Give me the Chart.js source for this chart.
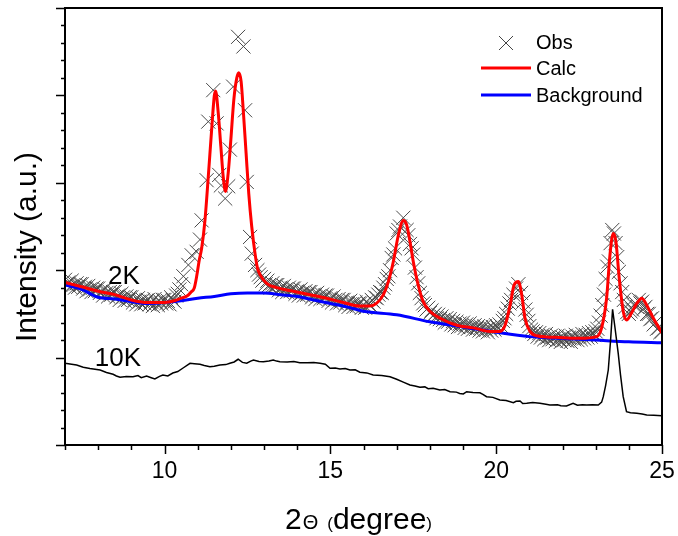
<!DOCTYPE html>
<html>
<head>
<meta charset="utf-8">
<script src="https://cdn.jsdelivr.net/npm/chart.js@4.4.1/dist/chart.umd.min.js"></script>
<style>
  html, body { margin: 0; padding: 0; background: #fff; }
  #wrap { width: 678px; height: 536px; }
</style>
</head>
<body>
<div id="wrap"><canvas id="c" width="678" height="536"></canvas></div>
<script>
// ---- 2K pattern: observed points (2-theta, intensity a.u.) ----
const obsTheta = [
  7.00, 7.05, 7.10, 7.15, 7.20, 7.25, 7.30, 7.35, 7.40, 7.45,
  7.50, 7.55, 7.60, 7.65, 7.70, 7.75, 7.80, 7.85, 7.90, 7.95,
  8.00, 8.05, 8.10, 8.15, 8.20, 8.25, 8.30, 8.35, 8.40, 8.45,
  8.50, 8.55, 8.60, 8.65, 8.70, 8.75, 8.80, 8.85, 8.90, 8.95,
  9.00, 9.05, 9.10, 9.15, 9.20, 9.25, 9.30, 9.35, 9.40, 9.45,
  9.50, 9.55, 9.60, 9.65, 9.70, 9.75, 9.80, 9.85, 9.90, 9.95,
  10.00, 10.05, 10.10, 10.15, 10.20, 10.25, 10.30, 10.35, 10.40, 10.45,
  10.50, 10.57, 10.72, 10.82, 10.97, 11.07, 11.12, 11.27, 11.32, 11.47,
  11.57, 11.65, 11.70, 11.83, 11.92, 11.97, 12.07, 12.22, 12.38, 12.43,
  12.48, 12.58, 12.63, 12.73, 12.80, 12.85,
  12.90, 12.95, 13.00, 13.05, 13.10, 13.15, 13.20, 13.25, 13.30, 13.35,
  13.40, 13.45, 13.50, 13.55, 13.60, 13.65, 13.70, 13.75, 13.80, 13.85,
  13.90, 13.95, 14.00, 14.05, 14.10, 14.15, 14.20, 14.25, 14.30, 14.35,
  14.40, 14.45, 14.50, 14.55, 14.60, 14.65, 14.70, 14.75, 14.80, 14.85,
  14.90, 14.95, 15.00, 15.05, 15.10, 15.15, 15.20, 15.25, 15.30, 15.35,
  15.40, 15.45, 15.50, 15.55, 15.60, 15.65, 15.70, 15.75, 15.80, 15.85,
  15.90, 15.95, 16.00, 16.05, 16.10, 16.15, 16.20, 16.25, 16.30, 16.35,
  16.40, 16.45, 16.50, 16.55, 16.60, 16.65, 16.70, 16.75, 16.80, 16.85,
  16.90, 16.95, 17.00, 17.05, 17.10, 17.20, 17.30, 17.35, 17.40, 17.45,
  17.50, 17.55, 17.60, 17.65, 17.70, 17.75, 17.80,
  17.85, 17.90, 17.95, 18.00, 18.05, 18.10, 18.15, 18.20, 18.25, 18.30,
  18.35, 18.40, 18.45, 18.50, 18.55, 18.60, 18.65, 18.70, 18.75, 18.80,
  18.85, 18.90, 18.95, 19.00, 19.05, 19.10, 19.15, 19.20, 19.25, 19.30,
  19.35, 19.40, 19.45, 19.50, 19.55, 19.60, 19.65, 19.70, 19.75, 19.80,
  19.85, 19.90, 19.95, 20.00, 20.05, 20.10,
  20.15, 20.20, 20.25, 20.30, 20.35, 20.40, 20.45, 20.52, 20.60, 20.67,
  20.75, 20.82, 20.88, 20.92, 20.97,
  21.00, 21.05, 21.10, 21.15, 21.20, 21.25, 21.30, 21.35, 21.40, 21.45,
  21.50, 21.55, 21.60, 21.65, 21.70, 21.75, 21.80, 21.85, 21.90, 21.95,
  22.00, 22.05, 22.10, 22.15, 22.20, 22.25, 22.30, 22.35, 22.40, 22.45,
  22.50, 22.55, 22.60, 22.65, 22.70, 22.75, 22.80, 22.85, 22.90, 22.95, 23.00,
  23.05, 23.10, 23.15, 23.20, 23.25, 23.30, 23.35, 23.40, 23.45, 23.50,
  23.55, 23.60, 23.65, 23.70, 23.75, 23.80, 23.85, 23.90, 23.95,
  24.00, 24.05, 24.10, 24.15, 24.20, 24.25, 24.30, 24.35, 24.40, 24.45,
  24.50, 24.55, 24.60, 24.65, 24.70, 24.75, 24.80, 24.85, 24.90, 24.95, 25.00
];
const obsIntensity = [
  1.89, 1.84, 1.86, 1.81, 1.88, 1.83, 1.80, 1.85, 1.81, 1.84,
  1.84, 1.79, 1.81, 1.76, 1.82, 1.78, 1.75, 1.80, 1.76, 1.79,
  1.79, 1.74, 1.76, 1.71, 1.78, 1.74, 1.70, 1.75, 1.72, 1.75,
  1.75, 1.69, 1.71, 1.66, 1.73, 1.69, 1.65, 1.70, 1.66, 1.69,
  1.69, 1.63, 1.66, 1.61, 1.68, 1.64, 1.61, 1.66, 1.62, 1.65,
  1.66, 1.61, 1.64, 1.59, 1.67, 1.63, 1.60, 1.65, 1.62, 1.66,
  1.66, 1.62, 1.65, 1.61, 1.69, 1.66, 1.64, 1.71, 1.73, 1.78,
  1.84, 1.93, 2.06, 2.17, 2.21, 2.35, 2.57, 3.03, 3.70, 4.06,
  3.68, 3.09, 2.97, 2.82, 2.96, 3.38, 4.10, 4.67, 4.56, 3.83,
  3.01, 2.38, 2.19, 2.06, 2.00, 1.95,
  1.92, 1.88, 1.90, 1.84, 1.88, 1.83, 1.80, 1.85, 1.81, 1.83,
  1.83, 1.77, 1.80, 1.75, 1.82, 1.78, 1.75, 1.80, 1.76, 1.79,
  1.79, 1.73, 1.76, 1.71, 1.78, 1.74, 1.71, 1.76, 1.72, 1.75,
  1.75, 1.69, 1.72, 1.67, 1.74, 1.70, 1.67, 1.72, 1.68, 1.71,
  1.71, 1.65, 1.68, 1.63, 1.70, 1.66, 1.62, 1.67, 1.63, 1.66,
  1.66, 1.60, 1.63, 1.58, 1.65, 1.61, 1.58, 1.63, 1.59, 1.62,
  1.62, 1.57, 1.61, 1.57, 1.64, 1.61, 1.60, 1.66, 1.64, 1.69,
  1.68, 1.72, 1.75, 1.74, 1.80, 1.84, 1.90, 1.93, 2.00, 2.14,
  2.18, 2.25, 2.42, 2.46, 2.50, 2.60, 2.46, 2.40, 2.30, 2.25,
  2.18, 2.03, 1.92, 1.85, 1.74, 1.68, 1.62,
  1.60, 1.55, 1.57, 1.51, 1.54, 1.48, 1.50, 1.45, 1.49, 1.44,
  1.47, 1.43, 1.40, 1.45, 1.41, 1.44, 1.38, 1.42, 1.37, 1.41,
  1.35, 1.39, 1.36, 1.40, 1.34, 1.38, 1.33, 1.39, 1.35, 1.32,
  1.37, 1.33, 1.36, 1.31, 1.35, 1.30, 1.36, 1.32, 1.29, 1.34,
  1.31, 1.35, 1.32, 1.37, 1.34, 1.38,
  1.36, 1.42, 1.45, 1.50, 1.56, 1.62, 1.66, 1.72, 1.79, 1.84,
  1.74, 1.64, 1.55, 1.49, 1.42,
  1.36, 1.32, 1.30, 1.27, 1.29, 1.24, 1.28, 1.23, 1.26, 1.21,
  1.27, 1.23, 1.20, 1.25, 1.21, 1.24, 1.19, 1.25, 1.21, 1.18,
  1.23, 1.20, 1.25, 1.19, 1.23, 1.18, 1.24, 1.21, 1.26, 1.20,
  1.24, 1.21, 1.27, 1.22, 1.26, 1.23, 1.28, 1.24, 1.29, 1.26, 1.30,
  1.33, 1.40, 1.48, 1.60, 1.72, 1.90, 2.04, 2.10, 2.31, 2.46,
  2.42, 2.31, 2.15, 1.98, 1.85, 1.75, 1.66, 1.58, 1.52,
  1.50, 1.53, 1.55, 1.60, 1.62, 1.58, 1.66, 1.62, 1.64, 1.56,
  1.58, 1.50, 1.50, 1.44, 1.45, 1.38, 1.40, 1.33, 1.34, 1.29, 1.30
];

// ---- 2K pattern: calculated profile ----
const calcTheta = [
  7.0, 7.5, 8.0, 8.5, 9.0, 9.5, 10.0, 10.3, 10.5, 10.7, 10.8, 10.9,
  10.97, 11.05, 11.12, 11.22, 11.32, 11.42, 11.50, 11.54, 11.62, 11.70,
  11.77, 11.84, 11.92, 12.00, 12.09, 12.18, 12.24, 12.31, 12.38, 12.46,
  12.54, 12.63, 12.73, 12.80, 12.88, 13.08, 13.38, 13.88, 14.39, 14.89,
  15.39, 15.89, 16.19, 16.39, 16.60, 16.75, 16.90, 17.05, 17.20, 17.30,
  17.40, 17.50, 17.65, 17.80, 18.00, 18.31, 18.81, 19.31, 19.81, 20.11,
  20.27, 20.42, 20.54, 20.67, 20.77, 20.87, 21.02, 21.22, 21.92, 22.53,
  23.03, 23.18, 23.33, 23.43, 23.53, 23.61, 23.71, 23.83, 23.93, 24.08,
  24.24, 24.39, 24.54, 24.74, 24.94, 25.0
];
const calcIntensity = [
  1.86, 1.81, 1.76, 1.72, 1.66, 1.63, 1.63, 1.65, 1.68, 1.71, 1.75, 1.80,
  1.93, 2.12, 2.25, 2.57, 3.07, 3.60, 3.99, 4.05, 3.80, 3.41,
  3.07, 2.90, 3.11, 3.49, 3.95, 4.20, 4.26, 4.16, 3.80, 3.34,
  2.88, 2.50, 2.19, 2.03, 1.95, 1.85, 1.80, 1.76, 1.72, 1.68,
  1.63, 1.59, 1.59, 1.62, 1.72, 1.87, 2.10, 2.40, 2.57, 2.52,
  2.33, 2.10, 1.83, 1.64, 1.53, 1.45, 1.37, 1.34, 1.30, 1.30,
  1.37, 1.60, 1.83, 1.87, 1.72, 1.45, 1.30, 1.25, 1.23, 1.22,
  1.24, 1.34, 1.68, 2.17, 2.42, 2.33, 1.91, 1.53, 1.43, 1.51,
  1.62, 1.68, 1.60, 1.45, 1.32, 1.28
];

// ---- 2K pattern: refined background ----
const bgTheta = [
  7.0, 7.5, 8.0, 8.5, 9.0, 9.5, 10.0, 10.5, 11.0, 11.5, 12.0, 12.5, 13.0, 13.5,
  14.0, 14.5, 15.0, 15.5, 16.0, 17.0, 18.0, 19.0, 20.0, 21.0, 22.0, 23.0, 24.0, 25.0
];
const bgIntensity = [
  1.83, 1.78, 1.69, 1.67, 1.64, 1.62, 1.63, 1.65, 1.68, 1.70, 1.73, 1.74, 1.74, 1.72,
  1.70, 1.66, 1.62, 1.58, 1.53, 1.49, 1.41, 1.35, 1.29, 1.24, 1.22, 1.20, 1.18, 1.17
];

// ---- 10K pattern ----
const tenKTheta = [
  7.00, 7.20, 7.35, 7.55, 7.75, 8.06, 8.25, 8.45, 8.55, 8.66, 8.85, 9.05, 9.20, 9.30,
  9.46, 9.60, 9.71, 9.85, 9.95, 10.10, 10.25, 10.40, 10.56, 10.77, 10.90, 11.07, 11.20,
  11.37, 11.50, 11.67, 11.85, 11.97, 12.10, 12.22, 12.35, 12.48, 12.60, 12.68, 12.85,
  12.98, 13.15, 13.28, 13.38, 13.48, 13.70, 13.90, 14.08, 14.30, 14.50, 14.69, 14.85,
  14.99, 15.15, 15.29, 15.45, 15.59, 15.75, 15.89, 16.10, 16.29, 16.55, 16.80, 17.00,
  17.20, 17.40, 17.55, 17.70, 17.85, 17.95, 18.10, 18.30, 18.45, 18.61, 18.80, 18.90,
  19.01, 19.11, 19.30, 19.51, 19.60, 19.71, 19.90, 20.11, 20.30, 20.52, 20.60, 20.72,
  20.80, 20.92, 21.10, 21.32, 21.50, 21.62, 21.85, 21.95, 22.12, 22.32, 22.45, 22.60,
  22.73, 22.90, 23.08, 23.18, 23.23, 23.30, 23.38, 23.45, 23.51, 23.58, 23.68, 23.75,
  23.83, 23.93, 24.05, 24.24, 24.40, 24.54, 24.75, 25.00
];
const tenKIntensity = [
  0.935, 0.925, 0.915, 0.890, 0.875, 0.858, 0.830, 0.809, 0.790, 0.775, 0.785, 0.781, 0.795, 0.770,
  0.789, 0.770, 0.755, 0.785, 0.801, 0.790, 0.824, 0.840, 0.881, 0.935, 0.930, 0.923, 0.910,
  0.896, 0.900, 0.915, 0.920, 0.935, 0.950, 0.981, 0.945, 0.935, 0.960, 0.973, 0.955,
  0.953, 0.960, 0.973, 0.960, 0.953, 0.950, 0.955, 0.942, 0.940, 0.945, 0.935, 0.925,
  0.878, 0.880, 0.870, 0.875, 0.858, 0.860, 0.832, 0.825, 0.801, 0.795, 0.781, 0.752,
  0.720, 0.686, 0.675, 0.660, 0.665, 0.645, 0.649, 0.630, 0.635, 0.610, 0.605, 0.590,
  0.584, 0.610, 0.600, 0.598, 0.580, 0.553, 0.545, 0.515, 0.510, 0.484, 0.500, 0.503,
  0.475, 0.477, 0.485, 0.477, 0.465, 0.458, 0.460, 0.450, 0.446, 0.477, 0.455, 0.460,
  0.458, 0.460, 0.458, 0.490, 0.553, 0.680, 0.858, 1.200, 1.553, 1.350, 1.049, 0.800,
  0.553, 0.381, 0.370, 0.363, 0.355, 0.343, 0.340, 0.335
];

// axis ticks
const xTickLabels = [10, 15, 20, 25];
const xMinorStep = 1;
const yMajorStep = 1;
const yMinorStep = 0.2;

const FONT = "'Liberation Sans', Arial, Helvetica, sans-serif";

const pts = (xs, ys) => xs.map((v, i) => ({ x: v, y: ys[i] }));

// Frame, outward ticks, curve labels, legend and axis titles
const decorations = {
  id: 'decorations',
  afterDraw(chart) {
    const { ctx, chartArea: a, scales: { x, y } } = chart;
    ctx.save();
    ctx.strokeStyle = '#000';
    ctx.lineWidth = 1.5;
    ctx.lineCap = 'butt';

    // x ticks (outward, below)
    ctx.beginPath();
    for (let v = x.min; v <= x.max + 1e-9; v += xMinorStep) {
      const px = Math.round(x.getPixelForValue(v)) + 0.5;
      const major = xTickLabels.includes(Math.round(v)) && Math.abs(v - Math.round(v)) < 1e-6;
      ctx.moveTo(px, a.bottom);
      ctx.lineTo(px, a.bottom + (major ? 9 : 5));
    }
    // y ticks (outward, left)
    for (let v = y.min; v <= y.max + 1e-9; v += yMinorStep) {
      const py = Math.round(y.getPixelForValue(v)) + 0.5;
      const major = Math.abs(v / yMajorStep - Math.round(v / yMajorStep)) < 1e-6;
      ctx.moveTo(a.left, py);
      ctx.lineTo(a.left - (major ? 9 : 4), py);
    }
    ctx.stroke();

    // frame
    ctx.lineWidth = 2;
    ctx.strokeRect(a.left, a.top, a.right - a.left, a.bottom - a.top);

    // curve labels
    ctx.fillStyle = '#000';
    ctx.textBaseline = 'alphabetic';
    ctx.textAlign = 'left';
    ctx.font = `26px ${FONT}`;
    ctx.fillText('2K', x.getPixelForValue(8.3), y.getPixelForValue(1.84));
    ctx.fillText('10K', x.getPixelForValue(7.9), y.getPixelForValue(0.9));

    // legend
    ctx.font = `20px ${FONT}`;
    ctx.textBaseline = 'middle';
    ctx.strokeStyle = '#444';
    ctx.lineWidth = 1;
    ctx.beginPath();
    ctx.moveTo(499, 36); ctx.lineTo(513, 50);
    ctx.moveTo(513, 36); ctx.lineTo(499, 50);
    ctx.stroke();
    ctx.fillText('Obs', 536, 43);
    ctx.lineWidth = 3;
    ctx.strokeStyle = '#ff0000';
    ctx.beginPath(); ctx.moveTo(481, 68); ctx.lineTo(531, 68); ctx.stroke();
    ctx.fillText('Calc', 536, 69);
    ctx.strokeStyle = '#0000ff';
    ctx.beginPath(); ctx.moveTo(481, 95); ctx.lineTo(531, 95); ctx.stroke();
    ctx.fillText('Background', 536, 96);

    // x title: 2Θ (degree)
    ctx.textBaseline = 'alphabetic';
    const base = 529;
    let cx = 285;
    ctx.font = `30px ${FONT}`;
    ctx.fillText('2', cx, base);
    cx += ctx.measureText('2').width + 1;
    ctx.font = `20px ${FONT}`;
    ctx.fillText('\u0398', cx, base);
    cx += ctx.measureText('\u0398').width + 9;
    ctx.font = `17px ${FONT}`;
    ctx.fillText('(', cx, base);
    cx += ctx.measureText('(').width;
    ctx.font = `30px ${FONT}`;
    ctx.fillText('degree', cx, base);
    cx += ctx.measureText('degree').width;
    ctx.font = `17px ${FONT}`;
    ctx.fillText(')', cx, base);

    // y title
    ctx.translate(36, 247);
    ctx.rotate(-Math.PI / 2);
    ctx.textAlign = 'center';
    ctx.font = `30px ${FONT}`;
    ctx.fillText('Intensity (a.u.)', 0, 0);
    ctx.restore();
  }
};

new Chart(document.getElementById('c'), {
  type: 'line',
  data: {
    datasets: [
      {
        label: '10K',
        data: pts(tenKTheta, tenKIntensity),
        borderColor: '#000000',
        borderWidth: 1.5,
        pointRadius: 0,
        tension: 0,
        order: 1
      },
      {
        label: 'Calc',
        data: pts(calcTheta, calcIntensity),
        borderColor: '#ff0000',
        borderWidth: 3,
        pointRadius: 0,
        cubicInterpolationMode: 'monotone',
        order: 2
      },
      {
        label: 'Background',
        data: pts(bgTheta, bgIntensity),
        borderColor: '#0000ff',
        borderWidth: 3,
        pointRadius: 0,
        cubicInterpolationMode: 'monotone',
        order: 3
      },
      {
        label: 'Obs',
        data: pts(obsTheta, obsIntensity),
        showLine: false,
        pointStyle: 'crossRot',
        pointRadius: 10,
        pointBorderWidth: 1,
        pointBorderColor: '#4a4a4a',
        pointBackgroundColor: 'rgba(0,0,0,0)',
        clip: 0,
        order: 4
      }
    ]
  },
  options: {
    responsive: false,
    animation: false,
    devicePixelRatio: 1,
    layout: { autoPadding: false, padding: { left: 0, right: 16, top: 8, bottom: 0 } },
    plugins: { legend: { display: false }, tooltip: { enabled: false } },
    scales: {
      x: {
        type: 'linear',
        min: 7,
        max: 25,
        grid: { display: false, drawTicks: false },
        border: { display: false },
        afterBuildTicks: s => { s.ticks = xTickLabels.map(v => ({ value: v })); },
        afterFit: s => { s.height = 91; s.paddingLeft = 0; s.paddingRight = 0; },
        ticks: {
          padding: 13,
          color: '#000',
          maxRotation: 0,
          autoSkip: false,
          font: { family: FONT, size: 23 }
        }
      },
      y: {
        type: 'linear',
        min: 0,
        max: 5,
        grid: { display: false, drawTicks: false },
        border: { display: false },
        ticks: { display: false },
        afterFit: s => { s.width = 65; s.paddingTop = 0; s.paddingBottom = 0; }
      }
    }
  },
  plugins: [decorations]
});
</script>
</body>
</html>
